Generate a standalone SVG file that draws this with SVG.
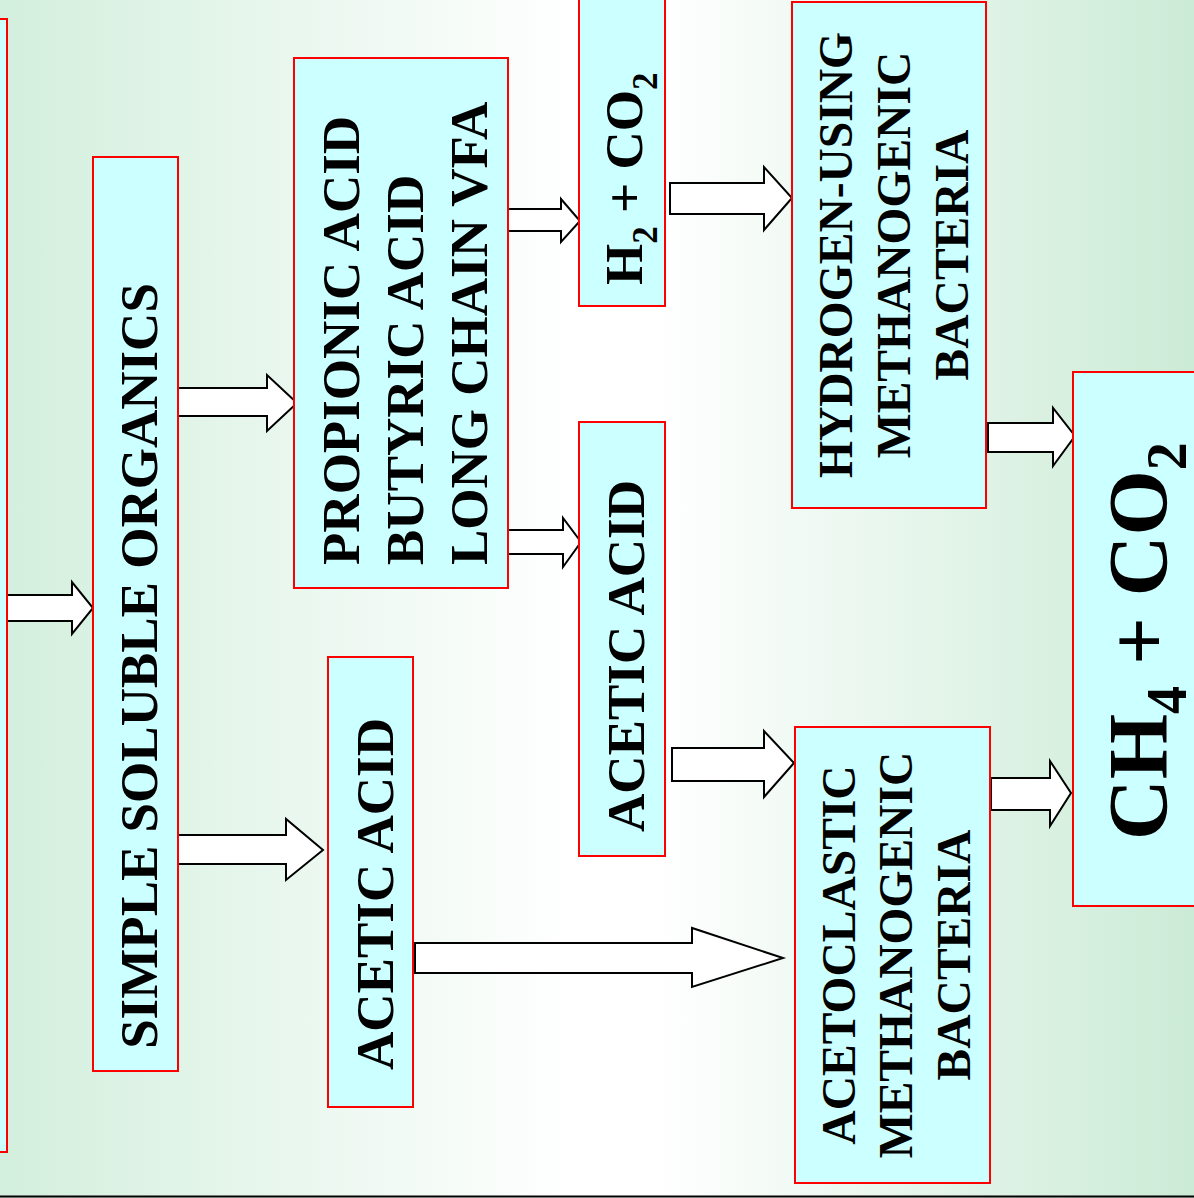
<svg xmlns="http://www.w3.org/2000/svg" width="1194" height="1198" viewBox="0 0 1194 1198">
<defs>
<linearGradient id="bg" x1="0" y1="0" x2="1" y2="0">
<stop offset="0" stop-color="#d3efdd"/>
<stop offset="0.48" stop-color="#ffffff"/>
<stop offset="0.55" stop-color="#ffffff"/>
<stop offset="1" stop-color="#cbebd6"/>
</linearGradient>
</defs>
<style>
.box{fill:#ccffff;stroke:#ff0000;stroke-width:2}
.arr{fill:#ffffff;stroke:#000000;stroke-width:2;stroke-linejoin:miter}
.t{font-family:"Liberation Serif","Times New Roman",serif;font-weight:bold;fill:#000000}
.m{font-size:53px;text-anchor:middle}
.s{font-size:53px;text-anchor:start}
.b{font-size:47.5px;text-anchor:middle}
</style>
<rect x="0" y="0" width="1194" height="1198" fill="url(#bg)"/>
<line x1="0" y1="1196.5" x2="1194" y2="1196.5" stroke="#000" stroke-width="2"/>

<g id="connectors">
<polygon class="arr" points="7,595 72,595 72,582 93,608 72,634 72,621 7,621"/>
<polygon class="arr" points="177,388 267,388 267,375 297,403 267,431 267,416 177,416"/>
<polygon class="arr" points="178,835 286,835 286,819 323,850 286,880 286,864 178,864"/>
<polygon class="arr" points="506,209 561,209 561,199 580,221 561,242 561,231 506,231"/>
<polygon class="arr" points="508,530 563,530 563,518 581,542 563,567 563,554 508,554"/>
<polygon class="arr" points="670,183 764,183 764,167 792,198 764,230 764,214 670,214"/>
<polygon class="arr" points="672,748 764,748 764,731 794,763 764,797 764,781 672,781"/>
<polygon class="arr" points="415,943 692,943 692,928 783,958 692,987 692,973 415,973"/>
<polygon class="arr" points="988,423 1053,423 1053,408 1075,436 1053,466 1053,452 988,452"/>
<polygon class="arr" points="991,778 1050,778 1050,761 1071,793 1050,826 1050,810 991,810"/>
</g>

<g id="node-left">
<rect class="box" x="-10" y="19" width="17" height="1133"/>
</g>

<g id="node-simple">
<rect class="box" x="93" y="157" width="85" height="914"/>
<text class="t m" transform="translate(157,666) rotate(-90)">SIMPLE SOLUBLE ORGANICS</text>
</g>

<g id="node-vfa">
<rect class="box" x="294" y="58" width="214" height="530"/>
<text class="t s" transform="translate(359,565) rotate(-90)">PROPIONIC ACID</text>
<text class="t s" transform="translate(423,565) rotate(-90)">BUTYRIC ACID</text>
<text class="t s" transform="translate(487,565) rotate(-90)">LONG CHAIN VFA</text>
</g>

<g id="node-acetic1">
<rect class="box" x="328" y="657" width="85" height="450"/>
<text class="t m" transform="translate(393,894) rotate(-90)">ACETIC ACID</text>
</g>

<g id="node-h2co2">
<rect class="box" x="579" y="-10" width="86" height="316"/>
<text class="t s" transform="translate(642,285) rotate(-90)">H<tspan font-size="35" dy="15">2</tspan><tspan dy="-15"> + CO</tspan><tspan font-size="35" dy="15">2</tspan></text>
</g>

<g id="node-acetic2">
<rect class="box" x="579" y="422" width="86" height="434"/>
<text class="t m" transform="translate(644,656) rotate(-90)">ACETIC ACID</text>
</g>

<g id="node-hydrogen">
<rect class="box" x="792" y="2" width="194" height="506"/>
<text class="t b" transform="translate(852,255) rotate(-90)">HYDROGEN-USING</text>
<text class="t b" transform="translate(910,255) rotate(-90)">METHANOGENIC</text>
<text class="t b" transform="translate(968,255) rotate(-90)">BACTERIA</text>
</g>

<g id="node-acetoclastic">
<rect class="box" x="795" y="727" width="195" height="456"/>
<text class="t b" transform="translate(855,955) rotate(-90)">ACETOCLASTIC</text>
<text class="t b" transform="translate(912,955) rotate(-90)">METHANOGENIC</text>
<text class="t b" transform="translate(970,955) rotate(-90)">BACTERIA</text>
</g>

<g id="node-ch4">
<rect class="box" x="1073" y="372" width="131" height="534"/>
<text class="t" font-size="84" transform="translate(1167,840) rotate(-90)">CH<tspan font-size="56" dy="19">4</tspan><tspan dy="-19"> + CO</tspan><tspan font-size="56" dy="19">2</tspan></text>
</g>
</svg>
